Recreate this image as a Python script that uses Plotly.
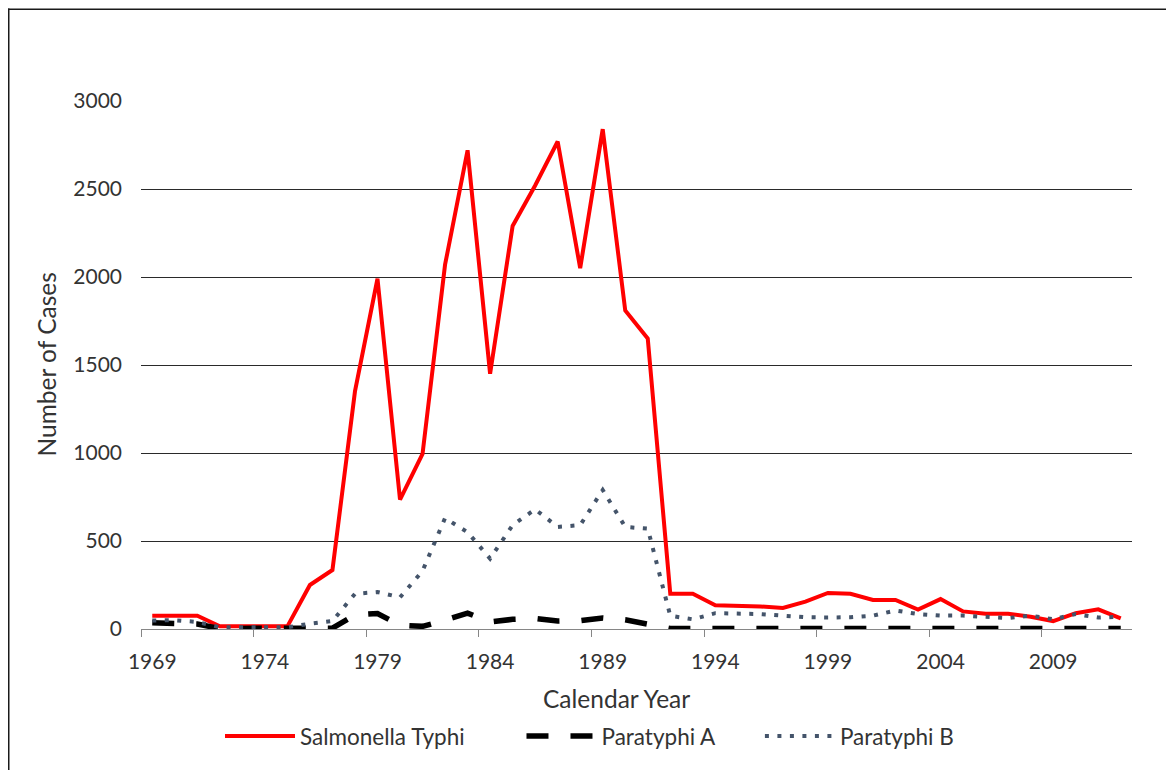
import plotly.graph_objects as go

years = list(range(1969, 2013))
typhi = [75, 75, 75, 15, 15, 15, 15, 250, 335, 1350, 1990, 735, 995, 2070, 2720,
         1450, 2290, 2520, 2770, 2050, 2840, 1810, 1650, 200, 200, 135, 133, 128,
         120, 155, 205, 200, 165, 165, 110, 170, 100, 86, 86, 70, 45, 90, 112, 60]
paratyphi_a = [35, 35, 28, 3, 3, 3, 3, 3, 5, 80, 88, 22, 15, 50, 90, 40, 55, 60,
               45, 48, 63, 52, 25, 3, 3, 3, 3, 3, 3, 3, 3, 3, 3, 3, 3, 3, 3, 3, 3,
               3, 3, 3, 3, 3]
paratyphi_b = [48, 50, 40, 10, 10, 10, 10, 30, 45, 200, 210, 180, 330, 630, 550,
               400, 590, 680, 580, 590, 790, 580, 570, 75, 55, 90, 90, 85, 76, 67,
               65, 67, 76, 105, 85, 76, 76, 67, 62, 76, 55, 85, 65, 70]
series_names = ["Salmonella Typhi", "Paratyphi A", "Paratyphi B"]
x_tick_labels = [1969, 1974, 1979, 1984, 1989, 1994, 1999, 2004, 2009]
y_ticks = [0, 500, 1000, 1500, 2000, 2500, 3000]

FONT = "Lato"
TXT = "#333333"
NB = "\u00a0"
legend_pad = [9, 7, 0]  # trailing non-breaking spaces = gap between legend entries

fig = go.Figure()
fig.add_trace(go.Scatter(x=years, y=typhi, name=series_names[0] + NB * legend_pad[0],
                         mode="lines", line=dict(color="#FF0000", width=4)))
fig.add_trace(go.Scatter(x=years, y=paratyphi_a, name=series_names[1] + NB * legend_pad[1],
                         mode="lines",
                         line=dict(color="#000000", width=5.5, dash="22px,22px")))
fig.add_trace(go.Scatter(x=years, y=paratyphi_b, name=series_names[2],
                         mode="lines",
                         line=dict(color="#44546A", width=4, dash="4px,8.5px")))

# page has an 8px body margin; work in window pixel coordinates
OFF = 8
WIN_W, WIN_H = 1174, 770
W, H = WIN_W - OFF, WIN_H - OFF
PL, PR, PT, PB = 141, 1132, 101, 632  # plot area in window px
L, R, T, B = PL - OFF, WIN_W - PR, PT - OFF, WIN_H - PB
pw, ph = PR - PL, PB - PT


def px_x(p):
    return (p - PL) / pw


def px_y(p):
    return (PB - p) / ph


fig.update_layout(
    width=W, height=H,
    margin=dict(l=L, r=R, t=T, b=B),
    paper_bgcolor="white", plot_bgcolor="white",
    font=dict(family=FONT, size=21, color=TXT),
    showlegend=True,
    legend=dict(orientation="h", x=px_x(220), xanchor="left",
                y=px_y(740), yanchor="middle",
                font=dict(family=FONT, size=22.5, color=TXT),
                bgcolor="rgba(0,0,0,0)", itemwidth=70),
    xaxis=dict(range=[1968.5, 2012.5], tickmode="array", tickvals=x_tick_labels,
               ticktext=[str(v) for v in x_tick_labels], ticks="outside", ticklen=0,
               ticklabelstandoff=14,
               showgrid=False, zeroline=False, showline=True, linecolor="#868686",
               linewidth=1, tickfont=dict(family=FONT, size=21, color=TXT),
               minor=dict(tickmode="linear", tick0=1968.5, dtick=5, ticks="outside",
                          ticklen=7, tickcolor="#868686", tickwidth=1, showgrid=False),
               fixedrange=True),
    yaxis=dict(range=[0, 3000], tickmode="array", tickvals=y_ticks,
               showgrid=True, gridcolor="#2a2a2a", gridwidth=1, zeroline=False,
               showline=False, ticks="", ticklabelstandoff=18,
               tickfont=dict(family=FONT, size=21, color=TXT), fixedrange=True),
    annotations=[
        dict(text="Calendar Year", xref="paper", yref="paper", x=px_x(616), y=px_y(702),
             xanchor="center", yanchor="middle", showarrow=False,
             font=dict(family=FONT, size=24.5, color=TXT)),
        dict(text="Number of Cases", xref="paper", yref="paper", x=px_x(47), y=px_y(366),
             xanchor="center", yanchor="middle", showarrow=False, textangle=-90,
             font=dict(family=FONT, size=24.5, color=TXT)),
    ],
    shapes=[
        dict(type="line", xref="paper", yref="paper", x0=px_x(OFF + 0.75), x1=px_x(OFF + 0.75),
             y0=px_y(OFF), y1=px_y(WIN_H + 5), line=dict(color="#1a1a1a", width=1.5)),
        dict(type="line", xref="paper", yref="paper", x0=px_x(OFF), x1=px_x(WIN_W + 5),
             y0=px_y(OFF + 0.75), y1=px_y(OFF + 0.75), line=dict(color="#1a1a1a", width=1.5)),
    ],
)

fig.write_html("out.html")
